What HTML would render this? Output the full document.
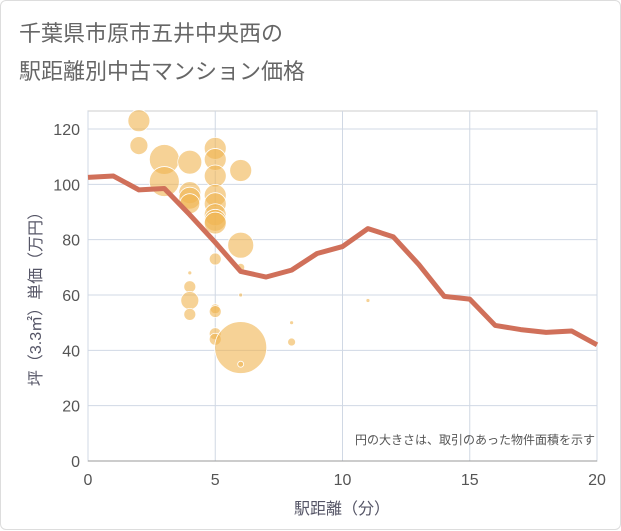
<!DOCTYPE html>
<html><head><meta charset="utf-8"><style>
body{margin:0;background:#fff;}
#c{position:relative;width:621px;height:530px;border:1px solid #ddd;box-sizing:border-box;border-radius:6px;font-family:"Liberation Sans","Noto Sans CJK JP",sans-serif;}
</style></head><body>
<div id="c">
<svg id="s" width="621" height="530" style="position:absolute;left:0;top:0" font-family="Liberation Sans, Noto Sans CJK JP, sans-serif">
<text x="18" y="40" font-size="22" fill="#666">千葉県市原市五井中央西の</text>
<text x="18" y="78" font-size="22" fill="#666">駅距離別中古マンション価格</text>
<g id="grid"></g><g id="bubbles"></g><g id="line"></g><g id="axes"></g>
<text x="594" y="443" font-size="12" fill="#555" text-anchor="end">円の大きさは、取引のあった物件面積を示す</text>
<text x="341" y="513" font-size="16" fill="#556" text-anchor="middle">駅距離（分）</text>
<text transform="translate(40,294) rotate(-90)" font-size="16" fill="#556" text-anchor="middle">坪（3.3㎡）単価（万円）</text>
</svg></div>
<script>
const xTicks=[0,5,10,15,20];
const yTicks=[0,20,40,60,80,100,120];
const lineX=[0,1,2,3,4,5,6,7,8,9,10,11,12,13,14,15,16,17,18,19,20];
const lineY=[102.5,103,98,98.5,89,79,68.5,66.5,69,75,77.5,84,81,71,59.5,58.5,49,47.5,46.5,47,42];
const bubX=[2,2,3,3,4,4,4,4,5,5,5,5,5,5,5,5,6,6,6,5,4,4,4,4,5,5,5,5,6,6,6,8,8,11];
const bubY=[123,114,109,101,108,97,95,93,113,109,103,96,93,89,87,86,105,78,70,73,68,63,58,53,55,54,46,44,41,35,60,50,43,58];
const bubR=[11,9,15,15,12,11,11,10,11,11,11,11,11,11,11,11,11,13,4,6,2,6,9,6,5,6,6,6,26,3,2,2,4,2];
const X0=87,X1=596,Y0=460,Y1=128;
const sx=v=>X0+(X1-X0)*v/20, sy=v=>Y0-(Y0-Y1)*v/120;
const NS="http://www.w3.org/2000/svg";
function mk(t,a,p){const e=document.createElementNS(NS,t);for(const k in a)e.setAttribute(k,a[k]);p.appendChild(e);return e;}
const g=document.getElementById('grid'),ax=document.getElementById('axes');
const bg=mk('rect',{x:X0,y:110,width:X1-X0,height:Y0-110,fill:'#fff',stroke:'#ccc'},g);


yTicks.forEach(v=>{
 const l=mk('line',{x1:X0,x2:X1,y1:sy(v),y2:sy(v),stroke:'#d0d8e4'},g);
 
 
 const t=mk('text',{x:X0-8,y:sy(v)+6,'font-size':16,fill:'#555','text-anchor':'end'},ax);
 t.textContent=v;
 
 
});
xTicks.forEach(v=>{
 const l=mk('line',{x1:sx(v),x2:sx(v),y1:110,y2:Y0,stroke:'#d0d8e4'},g);
 
 
 const t=mk('text',{x:sx(v),y:Y0+24,'font-size':16,fill:'#555','text-anchor':'middle'},ax);
 t.textContent=v;
 
 
});
const xa=mk('line',{x1:X0,x2:X1,y1:Y0,y2:Y0,stroke:'#999'},ax);


const bb=document.getElementById('bubbles');
bubX.forEach((x,i)=>{
 const c=mk('circle',{cx:sx(x),cy:sy(bubY[i]),r:bubR[i],fill:'rgba(240,180,80,0.6)',stroke:'#fff','stroke-width':0.8},bb);
 
 
});
const p=mk('polyline',{points:lineX.map((x,i)=>sx(x)+','+sy(lineY[i])).join(' '),fill:'none',stroke:'#d0705a','stroke-width':5,'stroke-linejoin':'round'},document.getElementById('line'));


</script>
</body></html>
